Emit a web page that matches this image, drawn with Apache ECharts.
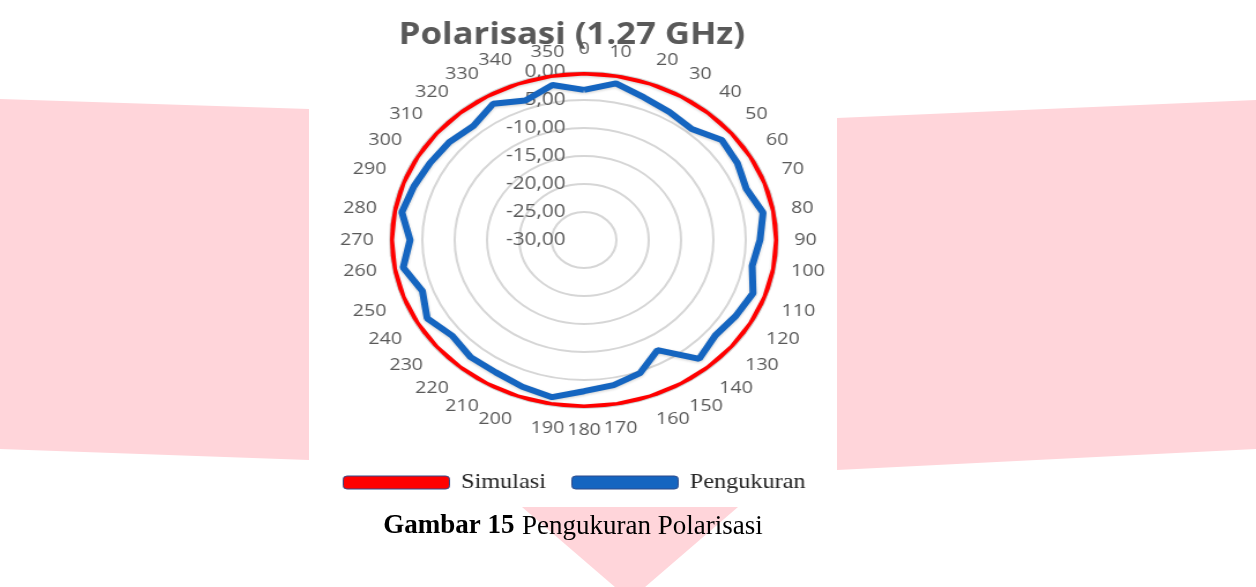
<!DOCTYPE html>
<html>
<head>
<meta charset="utf-8">
<script src="https://cdn.jsdelivr.net/npm/echarts@6/dist/echarts.min.js"></script>
<style>
  body { margin: 0; background: #fff; }
  .page { position: relative; width: 1256px; height: 587px; overflow: hidden; }
  #bg { position: absolute; left: 0; top: 0; width: 1256px; height: 587px; }
  /* the scanned chart is stretched sideways, so the polar plot becomes an ellipse */
  #polar {
    position: absolute; left: 308px; top: 0; width: 457px; height: 505px;
    transform: scaleX(1.155); transform-origin: 0 0;
  }
</style>
</head>
<body>
<div class="page">
  <div id="bg"></div>
  <div id="polar"></div>
</div>
<script>
// sudut (derajat)
var sudut = [0, 10, 20, 30, 40, 50, 60, 70, 80, 90, 100, 110,
  120, 130, 140, 150, 160, 170, 180, 190, 200, 210, 220, 230,
  240, 250, 260, 270, 280, 290, 300, 310, 320, 330, 340, 350]
// hasil simulasi (dB)
var simulasi = [0, 0, 0, 0, 0, 0, 0, 0, 0, 0, 0, 0,
  0, 0, 0, 0, 0, 0, 0, 0, 0, 0, 0, 0,
  0, 0, 0, 0, 0, 0, 0, 0, 0, 0, 0, 0]
// hasil pengukuran (dB)
var pengukuran = [-3.2, -1.6, -2.9, -3.6, -4.1, -2.2, -2.6, -3.3, -1.9, -2.8, -3.6, -2.2,
  -2.9, -3.5, -2.3, -7.3, -4.7, -3.7, -3.0, -1.5, -2.1, -2.7, -2.7, -3.4,
  -2.0, -3.4, -1.6, -3.1, -1.4, -2.0, -2.5, -2.8, -3.4, -1.9, -3.5, -1.9]
var skalaMin = -30
var skalaMax = 0
var skalaStep = 5

// tutup kurva: titik terakhir kembali ke 360 derajat
function kurva (list) {
  var out = []
  for (var i = 0; i < list.length; i++) {
    out.push([list[i], sudut[i]])
  }
  out.push([list[0], 360])
  return out
}

var bg = echarts.init(document.getElementById('bg'))
bg.setOption({
  animation: false,
  graphic: [
    { type: 'polygon', shape: { points: [[0, 99], [309, 109], [309, 460], [0, 449]] }, style: { fill: '#ffd5da' } },
    { type: 'polygon', shape: { points: [[837, 118], [1256, 100], [1256, 449], [837, 470]] }, style: { fill: '#ffd5da' } },
    { type: 'polygon', shape: { points: [[522, 507], [738, 507], [630, 600]] }, style: { fill: '#ffd5da' } },
    {
      type: 'text',
      x: 573,
      y: 540,
      style: {
        text: '{b|Gambar 15} {n|Pengukuran Polarisasi}',
        align: 'center',
        verticalAlign: 'bottom',
        rich: {
          b: { fontFamily: 'Liberation Serif', fontSize: 27, fontWeight: 'bold', fill: '#000' },
          n: { fontFamily: 'Liberation Serif', fontSize: 27, fill: '#000', padding: [0, 0, 0, 4] }
        }
      }
    }
  ]
})

var chart = echarts.init(document.getElementById('polar'))
chart.setOption({
  animation: false,
  title: {
    text: 'Polarisasi (1.27 GHz)',
    left: 'center',
    top: 15,
    textStyle: { fontFamily: 'Open Sans', fontSize: 30, fontWeight: 'bold', color: '#595959' }
  },
  legend: {
    data: ['Simulasi', 'Pengukuran'],
    left: 25,
    top: 467,
    icon: 'roundRect',
    itemWidth: 92,
    itemHeight: 13,
    itemGap: 22,
    itemStyle: { borderColor: '#2e4a8a', borderWidth: 1 },
    textStyle: { fontFamily: 'Liberation Serif', fontSize: 21, color: '#262626', padding: [0, 0, 0, 5] }
  },
  polar: {
    center: [239, 240],
    radius: 168
  },
  angleAxis: {
    type: 'value',
    min: 0,
    max: 360,
    interval: 10,
    startAngle: 90,
    clockwise: true,
    axisLine: { show: false },
    axisTick: { show: false },
    splitLine: { show: false },
    axisLabel: {
      margin: 14,
      fontFamily: 'Open Sans',
      fontSize: 17,
      color: '#595959',
      formatter: function (v) { return v >= 360 ? '' : String(v) }
    }
  },
  radiusAxis: {
    min: skalaMin,
    max: skalaMax,
    interval: skalaStep,
    axisLine: { show: false },
    axisTick: { show: false },
    splitLine: { lineStyle: { color: '#d6d6d6', width: 2 } },
    axisLabel: {
      margin: 16,
      fontFamily: 'Open Sans',
      fontSize: 18,
      color: '#595959',
      formatter: function (v) { return v.toFixed(2).replace('.', ',') }
    }
  },
  series: [
    {
      name: 'Simulasi',
      type: 'line',
      coordinateSystem: 'polar',
      data: kurva(simulasi),
      symbol: 'none',
      clip: false,
      color: '#ff0000',
      lineStyle: { width: 7, shadowColor: 'rgba(0,0,0,0.2)', shadowBlur: 3, shadowOffsetY: 1 }
    },
    {
      name: 'Pengukuran',
      type: 'line',
      coordinateSystem: 'polar',
      data: kurva(pengukuran),
      symbol: 'none',
      clip: false,
      color: '#1565c0',
      lineStyle: { width: 6, shadowColor: 'rgba(0,0,0,0.2)', shadowBlur: 3, shadowOffsetY: 1 }
    }
  ]
})
</script>
</body>
</html>
